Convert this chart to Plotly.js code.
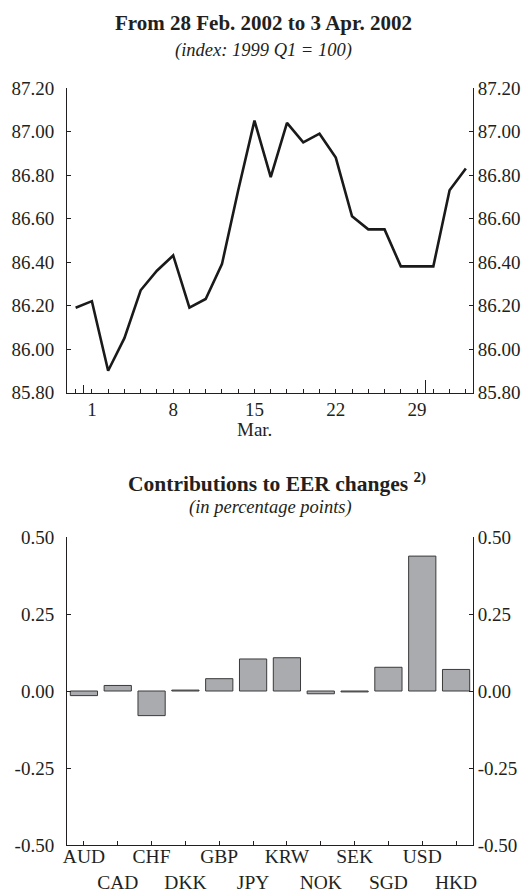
<!DOCTYPE html>
<html>
<head>
<meta charset="utf-8">
<script src="https://cdn.plot.ly/plotly-3.0.1.min.js"></script>
<style>html,body{margin:0;padding:0;background:#fff;}#chart{width:529px;height:892px;}</style>
</head>
<body>
<div id="chart"></div>
<script>
// ---- Top panel: daily EER index (business days) ----
var dates = ["2002-02-28","2002-03-01","2002-03-04","2002-03-05","2002-03-06","2002-03-07","2002-03-08",
             "2002-03-11","2002-03-12","2002-03-13","2002-03-14","2002-03-15",
             "2002-03-18","2002-03-19","2002-03-20","2002-03-21","2002-03-22",
             "2002-03-25","2002-03-26","2002-03-27","2002-03-28","2002-03-29",
             "2002-04-01","2002-04-02","2002-04-03"];
var eerIndex = [86.19, 86.22, 85.90, 86.05, 86.27, 86.36, 86.43,
                86.19, 86.23, 86.39, 86.73, 87.05,
                86.79, 87.04, 86.95, 86.99, 86.88,
                86.61, 86.55, 86.55, 86.38, 86.38,
                86.38, 86.73, 86.83];
var dayLabels = ["1","8","15","22","29"];
var monthLabel = "Mar.";
var topYTicks = [85.8, 86.0, 86.2, 86.4, 86.6, 86.8, 87.0, 87.2];

// ---- Bottom panel: contributions to EER changes ----
var currencies = ["AUD","CAD","CHF","DKK","GBP","JPY","KRW","NOK","SEK","SGD","USD","HKD"];
var contributions = [-0.015, 0.018, -0.080, 0.003, 0.040, 0.104, 0.108, -0.009, -0.003, 0.077, 0.438, 0.070];
var botYTickVals = [-0.5, -0.25, 0, 0.25, 0.5];
var botYTickText = ["-0.50","-0.25","0.00","0.25","0.50"];

var FONT = "Liberation Serif, 'Times New Roman', Times, serif";
var INK = "#231f20";
var TICK = 19;

var idx = dates.map(function(d,i){return i;});
var dayOfMonth = dates.map(function(d){return String(parseInt(d.slice(8),10));});
var tickText = dayOfMonth.map(function(d,i){
  return (dates[i].slice(5,7)==="03" && dayLabels.indexOf(d)>=0) ? d : "";
});
var monthBounds = [];
for (var i=1;i<dates.length;i++){
  if (dates[i].slice(5,7)!==dates[i-1].slice(5,7)) monthBounds.push(i-0.5);
}
var marIdx = [];
idx.forEach(function(i){ if (dates[i].slice(5,7)==="03" && dayOfMonth[i]==="15") marIdx.push(i); });

var W=529, H=892;
var xDom=[67/W, 473/W];
var topDom=[1-392.5/H, 1-88/H];
var botDom=[1-845/H, 1-537/H];
var xRange=[-0.53, dates.length-1+0.44];

var axisCommon = {showgrid:false, zeroline:false, showline:true, linecolor:INK, linewidth:1,
                  ticks:"inside", tickcolor:INK, tickwidth:1, ticklen:4,
                  tickfont:{family:FONT, size:TICK, color:INK}};

function merge(a,b){var o={};for(var k in a)o[k]=a[k];for(var k2 in b)o[k2]=b[k2];return o;}
function empty(xa, ya){return {x:[], y:[], type:"scatter", mode:"lines", xaxis:xa, yaxis:ya, hoverinfo:"skip", showlegend:false};}

var traces = [
  {x: idx, y: eerIndex, type:"scatter", mode:"lines", xaxis:"x", yaxis:"y",
   line:{color:"#1a1a1a", width:2.6}, hoverinfo:"skip", showlegend:false},
  empty("x","y2"), empty("x3","y"), empty("x4","y"),
  {x: currencies, y: contributions, type:"bar", xaxis:"x2", yaxis:"y3",
   marker:{color:"#a9abae", line:{color:"#3a3a3a", width:1}}, hoverinfo:"skip", showlegend:false},
  {x: currencies, y: contributions.map(function(){return null;}), type:"scatter", mode:"lines",
   xaxis:"x2", yaxis:"y4", hoverinfo:"skip", showlegend:false}
];

var layout = {
  width:W, height:H, margin:{l:0,r:0,t:0,b:0}, paper_bgcolor:"#fff", plot_bgcolor:"rgba(0,0,0,0)",
  font:{family:FONT, color:INK}, showlegend:false, bargap:0.195,
  xaxis: merge(axisCommon, {domain:xDom, anchor:"y", range:xRange, tickmode:"array",
          tickvals: idx, ticktext: tickText, tickangle:0, ticklabelstandoff:0}),
  xaxis3: {overlaying:"x", anchor:"y", domain:xDom, range:xRange, tickmode:"array",
           tickvals:[monthBounds[0]], ticks:"inside", ticklen:8, tickcolor:INK, tickwidth:1,
           showticklabels:false, showline:false, showgrid:false, zeroline:false},
  xaxis4: {overlaying:"x", anchor:"y", domain:xDom, range:xRange, tickmode:"array",
           tickvals:[monthBounds[1]], ticks:"inside", ticklen:13, tickcolor:INK, tickwidth:1,
           showticklabels:false, showline:false, showgrid:false, zeroline:false},
  yaxis: merge(axisCommon, {domain:topDom, anchor:"x", range:[85.8,87.2], tickmode:"array",
          tickvals:topYTicks, tickformat:".2f", ticklabelstandoff:8}),
  yaxis2: merge(axisCommon, {domain:topDom, anchor:"x", overlaying:"y", side:"right", range:[85.8,87.2],
          tickmode:"array", tickvals:topYTicks, tickformat:".2f", ticklabelstandoff:0}),
  xaxis2: merge(axisCommon, {domain:xDom, anchor:"y3", type:"category", range:[-0.5, currencies.length-0.5],
          tickmode:"array", tickvals:currencies, tickangle:0,
          tickfont:{family:FONT, size:19.5, color:INK},
          ticktext: currencies.map(function(c,i){return i%2===0 ? c : "<br>"+c;}), ticklabelstandoff:-6}),
  yaxis3: merge(axisCommon, {domain:botDom, anchor:"x2", range:[-0.5,0.5], tickmode:"array",
          tickvals:botYTickVals, ticktext:botYTickText, ticklabelstandoff:8}),
  yaxis4: merge(axisCommon, {domain:botDom, anchor:"x2", overlaying:"y3", side:"right", range:[-0.5,0.5],
          tickmode:"array", tickvals:botYTickVals, ticktext:botYTickText, ticklabelstandoff:0}),
  annotations: [
    {text:"<b>From 28 Feb. 2002 to 3 Apr. 2002</b>", xref:"paper", yref:"paper", x:263/W, y:1-23/H,
     xanchor:"center", yanchor:"middle", showarrow:false, font:{family:FONT, size:21, color:INK}},
    {text:"<i>(index: 1999 Q1 = 100)</i>", xref:"paper", yref:"paper", x:263/W, y:1-50/H,
     xanchor:"center", yanchor:"middle", showarrow:false, font:{family:FONT, size:18.5, color:INK}},
    {text:monthLabel, xref:"x", yref:"paper", x:marIdx[0], y:1-430/H,
     xanchor:"center", yanchor:"middle", showarrow:false, font:{family:FONT, size:TICK, color:INK}},
    {text:"<b>Contributions to EER changes <sup>2)</sup></b>", xref:"paper", yref:"paper", x:277/W, y:1-483/H,
     xanchor:"center", yanchor:"middle", showarrow:false, font:{family:FONT, size:21.5, color:INK}},
    {text:"<i>(in percentage points)</i>", xref:"paper", yref:"paper", x:270/W, y:1-507/H,
     xanchor:"center", yanchor:"middle", showarrow:false, font:{family:FONT, size:18.5, color:INK}}
  ]
};

Plotly.newPlot("chart", traces, layout, {staticPlot:true, displayModeBar:false});
</script>
</body>
</html>
